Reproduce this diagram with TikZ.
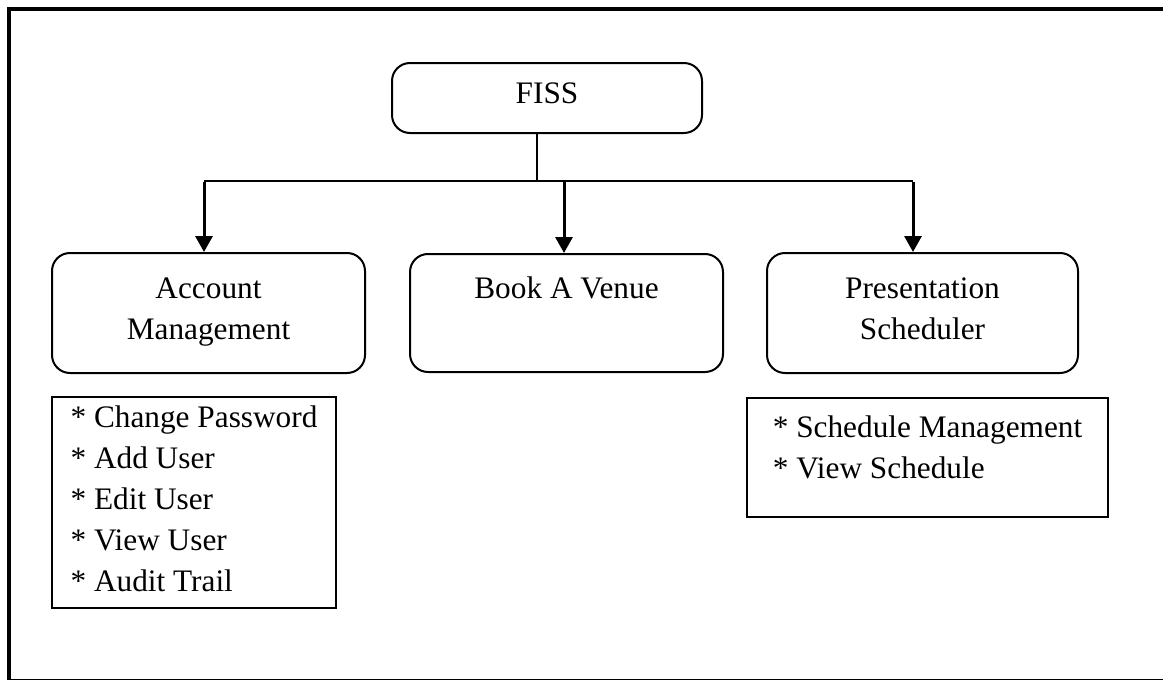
\documentclass[tikz,border=0pt]{standalone}
\usepackage{fontspec}
\setmainfont{Liberation Serif}
\usetikzlibrary{arrows.meta}

% invisible struts that fix the height above the first baseline / depth below the last one
\newcommand\hstrut[1]{\rule{0pt}{#1}}
\newcommand\dstrut[1]{\rule[-#1]{0pt}{#1}}

\tikzset{
  module/.style={draw, line width=2pt, rounded corners=18pt, align=center, inner sep=0pt},
  listbox/.style={draw, line width=2pt, align=left, inner sep=0pt},
  trunk/.style={line width=1.4pt},
  bus/.style={line width=2pt},
  branch/.style={line width=3pt, -{Triangle[length=16pt 0,width=17pt 0]}},
  frame/.style={line width=4pt}
}

\begin{document}
\begin{tikzpicture}[x=1pt, y=-1pt, font=\fontsize{31.3}{41}\selectfont]
  \useasboundingbox (0,0) rectangle (1163,680);
  \fill[white] (0,0) rectangle (1163,680);

  % page frame
  \draw[frame] (9,9) rectangle (1172,681);

  % top-level system
  \node[module, minimum width=310pt, minimum height=70pt] (fiss) at (547,98)
    {\hstrut{28pt}\dstrut{18pt}FISS};

  % modules
  \node[module, minimum width=313pt, minimum height=120pt] (acc) at (208.5,313)
    {\hstrut{28pt}Account\\Management\dstrut{17pt}};
  \node[module, minimum width=313pt, minimum height=118pt] (book) at (566.5,313)
    {\hstrut{28pt}\dstrut{58pt}Book A Venue};
  \node[module, minimum width=311pt, minimum height=120pt] (pres) at (922.5,313)
    {\hstrut{28pt}Presentation\\Scheduler\dstrut{17pt}};

  % functions of each module
  \node[listbox, minimum width=284pt, minimum height=211pt] (acclist) at (194,502.5)
    {\hstrut{28pt}* Change Password\\* Add User\\* Edit User\\* View User\\* Audit Trail\dstrut{15pt}};
  \node[listbox, minimum width=361pt, minimum height=119pt] (preslist) at (927.5,457.5)
    {\hstrut{28pt}* Schedule Management\\* View Schedule\dstrut{28pt}};

  % connector tree
  \coordinate (j)  at (537,181);
  \coordinate (bl) at (204,181);
  \coordinate (bm) at (564,181);
  \coordinate (br) at (913,181);

  \draw[trunk] (fiss.south -| j) -- (j);
  \draw[bus] (bl) -- (br);
  \draw[branch] ([yshift=-1pt]bl) -- (bl |- acc.north);
  \draw[branch] (bm) -- (bm |- book.north);
  \draw[branch] ([yshift=-1pt]br) -- (br |- pres.north);
\end{tikzpicture}
\end{document}
